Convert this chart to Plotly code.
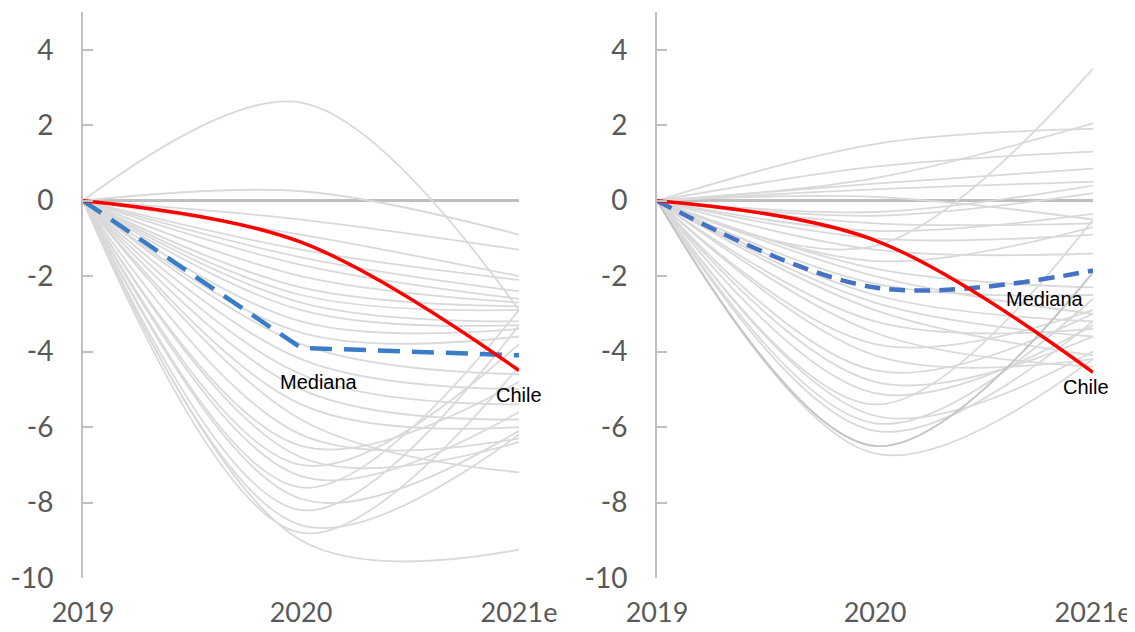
import plotly.graph_objects as go

years = ["2019", "2020", "2021e"]
y_ticks = [-10, -8, -6, -4, -2, 0, 2, 4]
y_tick_text = ["-10", "-8", "-6", "-4", "-2", "0", "2", "4"]

# Left panel: other countries (value at 2020, value at 2021e); 2019 = 0
left_2020 = [2.6, 0.25, -0.5, -0.9, -1.3, -1.5, -1.7, -2.0, -2.3, -2.5, -2.7, -2.9, -3.2,
             -3.5, -3.8, -4.2, -4.6, -5.0, -5.4, -5.8, -6.2, -6.5, -6.8, -7.0, -7.3, -7.6,
             -7.9, -8.2, -8.6, -9.0, -8.8]
left_2021 = [-2.9, -0.9, -1.3, -2.0, -2.1, -2.4, -2.6, -2.7, -2.8, -2.9, -3.2, -3.3, -3.4,
             -3.6, -4.6, -5.0, -5.4, -5.8, -6.0, -7.2, -6.3, -4.8, -6.4, -3.8, -5.6, -2.9,
             -6.1, -3.3, -6.2, -9.25, -4.4]
left_median = [0, -3.9, -4.1]
left_chile = [0, -1.1, -4.5]

# Right panel
right_2020 = [1.5, 0.9, 0.6, -1.2, 0.45, 0.3, -0.3, 0.1, -0.4, -0.6, -0.8, -1.0, -1.3, -1.6,
              -1.8, -2.0, -2.2, -2.5, -2.7, -2.9, -3.2, -3.5, -3.8, -4.1, -4.5, -4.8, -5.1,
              -5.4, -5.7, -5.9, -6.1, -6.7]
right_2021 = [1.9, 1.3, 2.05, 3.5, 0.85, 0.5, 0.4, -0.5, 0.2, -0.6, -0.35, -0.9, -1.4, -0.7,
              -2.3, -3.0, -2.5, -3.2, -3.6, -4.1, -3.4, -4.4, -2.9, -4.2, -3.0, -3.6, -3.3,
              -0.5, -4.0, -2.6, -3.2, -4.2]
right_dark = [0, -6.5, -1.9]
right_median = [0, -2.3, -1.85]
right_chile = [0, -1.05, -4.55]

fig = go.Figure()

def add_panel(xa, ya, v20, v21, extra_dark, median, median_shape, median_color, median_dash, chile):
    for a, b in zip(v20, v21):
        fig.add_trace(go.Scatter(x=years, y=[0, a, b], mode="lines", xaxis=xa, yaxis=ya,
                                 line=dict(color="#d9d9d9", width=1.8, shape="spline"),
                                 showlegend=False, hoverinfo="skip"))
    if extra_dark is not None:
        fig.add_trace(go.Scatter(x=years, y=extra_dark, mode="lines", xaxis=xa, yaxis=ya,
                                 line=dict(color="#c4c4c4", width=2, shape="spline"),
                                 showlegend=False, hoverinfo="skip"))
    fig.add_trace(go.Scatter(x=years, y=median, mode="lines", xaxis=xa, yaxis=ya, name="Mediana",
                             line=dict(color=median_color, width=4.5, shape=median_shape,
                                       dash=median_dash),
                             showlegend=False))
    fig.add_trace(go.Scatter(x=years, y=chile, mode="lines", xaxis=xa, yaxis=ya, name="Chile",
                             line=dict(color="#ff0000", width=3.5, shape="spline"),
                             showlegend=False))

add_panel("x", "y", left_2020, left_2021, None, left_median, "linear", "#3a7dc6", "22px,12px", left_chile)
add_panel("x2", "y2", right_2020, right_2021, right_dark, right_median, "spline", "#4472c4", "16px,9px", right_chile)

# the page body adds an 8px offset, so the figure is 8px smaller than the window
W, H = 1127, 624
tickfont = dict(family="Lato, Open Sans, sans-serif", size=28, color="#595959")
xtickfont = dict(family="Lato, Open Sans, sans-serif", size=27, color="#595959")

yax = dict(range=[-10, 5], tickvals=y_ticks, ticktext=y_tick_text, showgrid=False, zeroline=True,
           zerolinecolor="#bfbfbf", zerolinewidth=2.5, showline=True, linecolor="#bfbfbf",
           linewidth=2, ticks="inside", ticklen=10, tickwidth=2, tickcolor="#bfbfbf",
           tickfont=tickfont, ticklabelstandoff=22, domain=[0, 1], automargin=False)
xax = dict(type="category", categoryorder="array", categoryarray=years, range=[0, 2],
           showgrid=False, zeroline=False, showline=False, ticks="", tickfont=xtickfont,
           ticklabelstandoff=16, automargin=False)

fig.update_layout(
    width=W, height=H, margin=dict(l=0, r=0, t=4, b=54, autoexpand=False),
    paper_bgcolor="white", plot_bgcolor="white",
    xaxis=dict(xax, domain=[75 / W, 511 / W], anchor="y"),
    yaxis=dict(yax, anchor="x"),
    xaxis2=dict(xax, domain=[649 / W, 1085 / W], anchor="y2"),
    yaxis2=dict(yax, anchor="x2"),
)

lab_font = dict(family="Liberation Sans, Arial, sans-serif", size=20, color="#000000")
for xref, yref, x, y, t in [("x", "y", 1.083, -4.8, "Mediana"), ("x", "y", 2.0, -5.15, "Chile"),
                            ("x2", "y2", 1.78, -2.6, "Mediana"), ("x2", "y2", 1.97, -4.95, "Chile")]:
    fig.add_annotation(x=x, y=y, xref=xref, yref=yref, text=t, showarrow=False, font=lab_font)

fig.write_html("out.html")
